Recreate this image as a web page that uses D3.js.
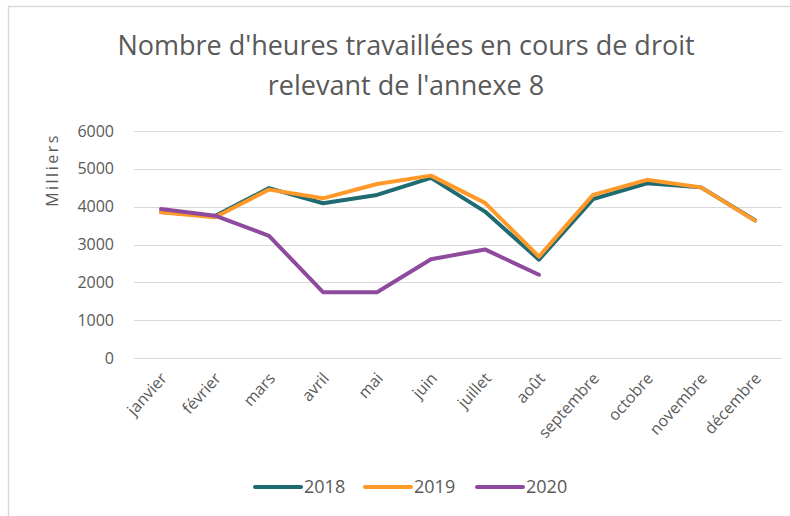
<!DOCTYPE html>
<html>
<head>
<meta charset="utf-8">
<script src="https://cdn.jsdelivr.net/npm/d3@7"></script>
<style>
  body { margin: 0; background: #fff; }
  text { fill: #595959; font-family: "Open Sans", sans-serif; }
</style>
</head>
<body>
<svg id="chart" width="790" height="516"></svg>
<script>
var months = ["janvier", "février", "mars", "avril", "mai", "juin", "juillet",
              "août", "septembre", "octobre", "novembre", "décembre"];
var years = ["2018", "2019", "2020"];
var values2018 = [3860, 3750, 4490, 4090, 4310, 4760, 3870, 2600, 4200, 4620, 4510, 3640];
var values2019 = [3850, 3720, 4450, 4220, 4600, 4820, 4100, 2680, 4310, 4710, 4510, 3630];
var values2020 = [3940, 3760, 3230, 1740, 1740, 2610, 2870, 2200];
var yTicks = [0, 1000, 2000, 3000, 4000, 5000, 6000];
var colors = ["#1e6b72", "#ff9a2a", "#8e4b9e"];

var series = [values2018, values2019, values2020];

var svg = d3.select("#chart");
var width = +svg.attr("width"), height = +svg.attr("height");

// chart border (top and left only visible in the capture)
svg.append("path")
    .attr("d", "M8.5," + height + "V6.5H" + width)
    .attr("fill", "none")
    .attr("stroke", "#d9d9d9")
    .attr("stroke-width", 1.5);

var x = d3.scaleBand()
          .domain(months)
          .range([134, 782]);

var y = d3.scaleLinear()
          .domain([0, 6000])
          .range([358, 131]);

// title
svg.append("text")
    .attr("x", 406)
    .attr("y", 55)
    .attr("font-size", "27px")
    .style("text-anchor", "middle")
  .selectAll("tspan")
  .data(["Nombre d'heures travaillées en cours de droit", "relevant de l'annexe 8"])
  .enter().append("tspan")
    .attr("x", 406)
    .attr("dy", (d, i) => i ? 40 : 0)
    .text(d => d);

// gridlines
svg.append("g")
    .selectAll("line")
    .data(yTicks)
    .enter().append("line")
      .attr("x1", 134)
      .attr("x2", 782)
      .attr("y1", d => Math.round(y(d)) + 0.5)
      .attr("y2", d => Math.round(y(d)) + 0.5)
      .attr("stroke", "#d9d9d9")
      .attr("stroke-width", 1);

// y axis labels
var yAxis = svg.append("g")
    .attr("transform", "translate(114,0)")
    .call(d3.axisLeft(y).tickValues(yTicks).tickFormat(d3.format("d"))
            .tickSize(0).tickPadding(0));
yAxis.select(".domain").remove();
yAxis.selectAll("text")
    .attr("font-size", "16px")
    .attr("font-family", "'Open Sans', sans-serif")
    .style("fill", "#595959");

svg.append("text")
    .attr("transform", "translate(58,170) rotate(-90)")
    .attr("font-size", "16px")
    .style("letter-spacing", "2.5px")
    .style("text-anchor", "middle")
    .text("Milliers");

// x axis labels
var xAxis = svg.append("g")
    .attr("transform", "translate(0,366)")
    .call(d3.axisBottom(x).tickSize(0).tickPadding(0));
xAxis.select(".domain").remove();
xAxis.selectAll("text")
    .attr("font-size", "16px")
    .attr("font-family", "'Open Sans', sans-serif")
    .style("fill", "#595959")
    .style("text-anchor", "end")
    .attr("dy", 0)
    .attr("transform", "translate(7,13) rotate(-48)");

// lines
var line = d3.line()
             .x((d, i) => x(months[i]) + x.bandwidth() / 2)
             .y(d => y(d));

svg.append("g")
    .selectAll("path")
    .data(series)
    .enter().append("path")
      .attr("d", line)
      .attr("fill", "none")
      .attr("stroke", (d, i) => colors[i])
      .attr("stroke-width", 4)
      .attr("stroke-linejoin", "round")
      .attr("stroke-linecap", "round");

// legend
var legendX = [255, 365, 477];
var legend = svg.append("g")
    .selectAll("g")
    .data(years)
    .enter().append("g")
      .attr("transform", (d, i) => "translate(" + legendX[i] + ",487)");

legend.append("line")
    .attr("x1", 0)
    .attr("x2", 46)
    .attr("stroke", (d, i) => colors[i])
    .attr("stroke-width", 4)
    .attr("stroke-linecap", "round");

legend.append("text")
    .attr("x", 49)
    .attr("dy", "0.35em")
    .attr("font-size", "18px")
    .text(d => d);
</script>
</body>
</html>
